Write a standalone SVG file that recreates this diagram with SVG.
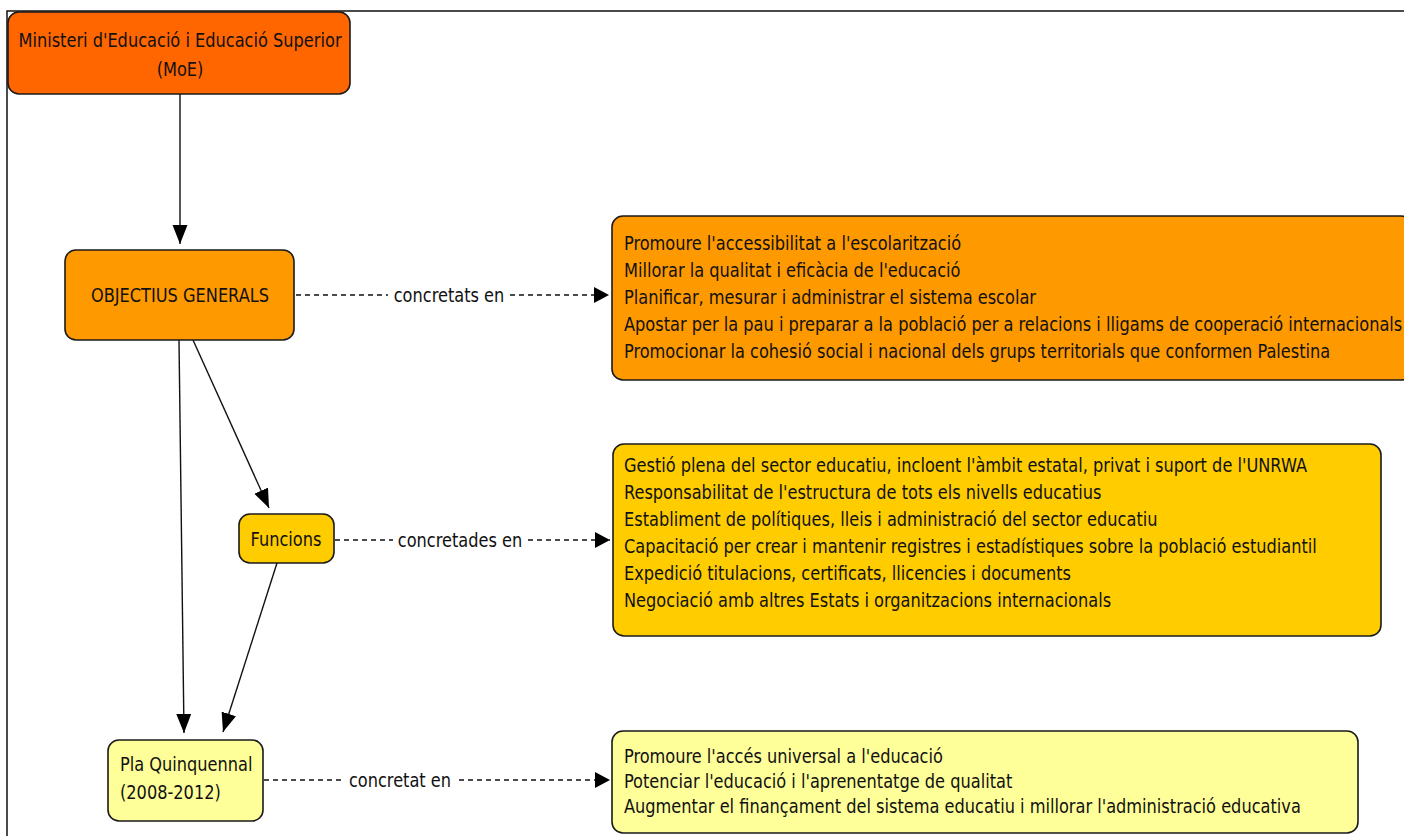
<svg xmlns="http://www.w3.org/2000/svg" width="1404" height="836" viewBox="0 0 1404 836">
<defs>
<style>
.node rect{stroke:#1a1a1a;stroke-width:1.6}
text{font-family:"DejaVu Sans Condensed","DejaVu Sans",sans-serif;font-size:20px;fill:#111}
.c{text-anchor:middle}
.solid{stroke:#111;stroke-width:1.4;fill:none}
.dash{stroke:#111;stroke-width:1.4;fill:none;stroke-dasharray:5,4}
</style>
<marker id="ah" markerUnits="userSpaceOnUse" markerWidth="20" markerHeight="16" refX="19" refY="7.5" orient="auto">
<path d="M0,0 L19,7.5 L0,15 z" fill="#000"/>
</marker>
<marker id="ahd" markerUnits="userSpaceOnUse" markerWidth="16" markerHeight="18" refX="15" refY="8" orient="auto">
<path d="M0,0 L15,8 L0,16 z" fill="#000"/>
</marker>
</defs>
<rect width="1404" height="836" fill="#fff"/>
<rect x="7" y="11" width="1500" height="1000" fill="none" stroke="#111" stroke-width="1.5"/>

<g id="connectors">
<line class="solid" x1="180" y1="94" x2="180" y2="244" marker-end="url(#ah)"/>
<line class="solid" x1="179" y1="340" x2="184" y2="733" marker-end="url(#ah)"/>
<line class="solid" x1="193" y1="340" x2="269" y2="508" marker-end="url(#ah)"/>
<line class="solid" x1="277" y1="563" x2="223" y2="732" marker-end="url(#ah)"/>
<line class="dash" x1="296" y1="295" x2="388" y2="295"/>
<line class="dash" x1="510" y1="295" x2="609" y2="295" marker-end="url(#ahd)"/>
<line class="dash" x1="335" y1="540" x2="393" y2="540"/>
<line class="dash" x1="528" y1="540" x2="610" y2="540" marker-end="url(#ahd)"/>
<line class="dash" x1="264" y1="780" x2="342" y2="780"/>
<line class="dash" x1="459" y1="780" x2="610" y2="780" marker-end="url(#ahd)"/>
<g transform="scale(0.9,1)">
<text class="c" x="498.89" y="302">concretats en</text>
<text class="c" x="511.11" y="547">concretades en</text>
<text class="c" x="444.44" y="787">concretat en</text>
</g>
</g>

<g id="moe" class="node">
<rect x="8" y="12" width="342" height="82" rx="11" fill="#ff6600"/>
<g transform="scale(0.9,1)">
<text class="c" x="200" y="47">Ministeri d'Educació i Educació Superior</text>
<text class="c" x="200" y="76">(MoE)</text>
</g>
</g>

<g id="objectius" class="node">
<rect x="65" y="250" width="229" height="90" rx="11" fill="#ff9900"/>
<g transform="scale(0.9,1)">
<text class="c" x="200" y="302">OBJECTIUS GENERALS</text>
</g>
</g>

<g id="objectius-detall" class="node">
<rect x="612" y="216" width="800" height="164" rx="11" fill="#ff9900"/>
<g transform="scale(0.9,1)">
<text x="693.33" y="250">Promoure l'accessibilitat a l'escolarització</text>
<text x="693.33" y="277">Millorar la qualitat i eficàcia de l'educació</text>
<text x="693.33" y="304">Planificar, mesurar i administrar el sistema escolar</text>
<text x="693.33" y="331">Apostar per la pau i preparar a la població per a relacions i lligams de cooperació internacionals</text>
<text x="693.33" y="358">Promocionar la cohesió social i nacional dels grups territorials que conformen Palestina</text>
</g>
</g>

<g id="funcions" class="node">
<rect x="239" y="514" width="95" height="49" rx="11" fill="#ffcc00"/>
<g transform="scale(0.9,1)">
<text class="c" x="317.78" y="546">Funcions</text>
</g>
</g>

<g id="funcions-detall" class="node">
<rect x="613" y="444" width="768" height="192" rx="11" fill="#ffcc00"/>
<g transform="scale(0.9,1)">
<text x="693.33" y="472">Gestió plena del sector educatiu, incloent l'àmbit estatal, privat i suport de l'UNRWA</text>
<text x="693.33" y="499">Responsabilitat de l'estructura de tots els nivells educatius</text>
<text x="693.33" y="526">Establiment de polítiques, lleis i administració del sector educatiu</text>
<text x="693.33" y="553">Capacitació per crear i mantenir registres i estadístiques sobre la població estudiantil</text>
<text x="693.33" y="580">Expedició titulacions, certificats, llicencies i documents</text>
<text x="693.33" y="607">Negociació amb altres Estats i organitzacions internacionals</text>
</g>
</g>

<g id="pla" class="node">
<rect x="108" y="740" width="155" height="81" rx="11" fill="#ffff99"/>
<g transform="scale(0.9,1)">
<text x="133.33" y="771">Pla Quinquennal</text>
<text x="133.33" y="799">(2008-2012)</text>
</g>
</g>

<g id="pla-detall" class="node">
<rect x="612" y="731" width="746" height="102" rx="11" fill="#ffff99"/>
<g transform="scale(0.9,1)">
<text x="693.33" y="763">Promoure l'accés universal a l'educació</text>
<text x="693.33" y="788">Potenciar l'educació i l'aprenentatge de qualitat</text>
<text x="693.33" y="813">Augmentar el finançament del sistema educatiu i millorar l'administració educativa</text>
</g>
</g>
</svg>
